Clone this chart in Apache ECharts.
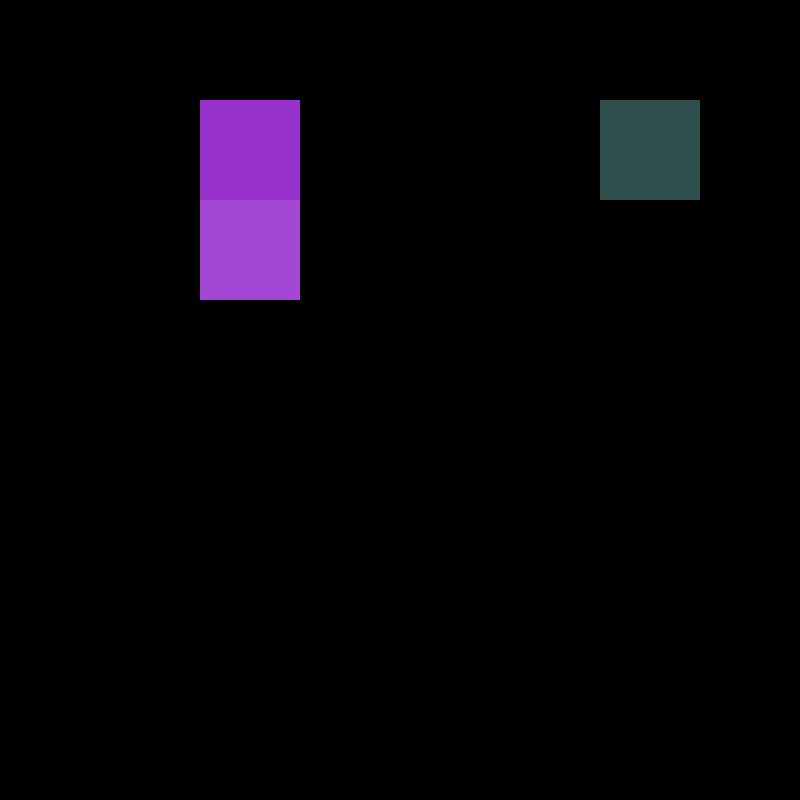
<!DOCTYPE html>
<html>
<head>
<meta charset="utf-8">
<script src="https://cdn.jsdelivr.net/npm/echarts@6/dist/echarts.min.js"></script>
<style>
  html, body { margin: 0; padding: 0; background: #000; }
  #chart { width: 800px; height: 800px; }
</style>
</head>
<body>
<div id="chart"></div>
<script>
// 8 x 8 grid of cells, only three are filled
var columns = ['0', '1', '2', '3', '4', '5', '6', '7'];
var rows = ['0', '1', '2', '3', '4', '5', '6', '7'];
var cellCols = [2, 2, 6];
var cellRows = [1, 2, 1];
var cellColors = ['#9932CC', '#A346D3', '#2F4F4F'];

var data = cellCols.map(function (c, i) {
    return { value: [c, cellRows[i]], itemStyle: { color: cellColors[i] } };
});

var chart = echarts.init(document.getElementById('chart'));
chart.setOption({
    backgroundColor: '#000',
    animation: false,
    grid: { left: 0, right: 0, top: 0, bottom: 0 },
    xAxis: { type: 'category', data: columns, show: false },
    yAxis: { type: 'category', data: rows, inverse: true, show: false },
    series: [{
        type: 'custom',
        data: data,
        renderItem: function (params, api) {
            var p = api.coord([api.value(0), api.value(1)]);
            var s = api.size([1, 1]);
            return {
                type: 'rect',
                shape: { x: p[0] - s[0] / 2, y: p[1] - s[1] / 2, width: s[0], height: s[1] },
                style: { fill: api.visual('color') }
            };
        }
    }]
});
</script>
</body>
</html>
